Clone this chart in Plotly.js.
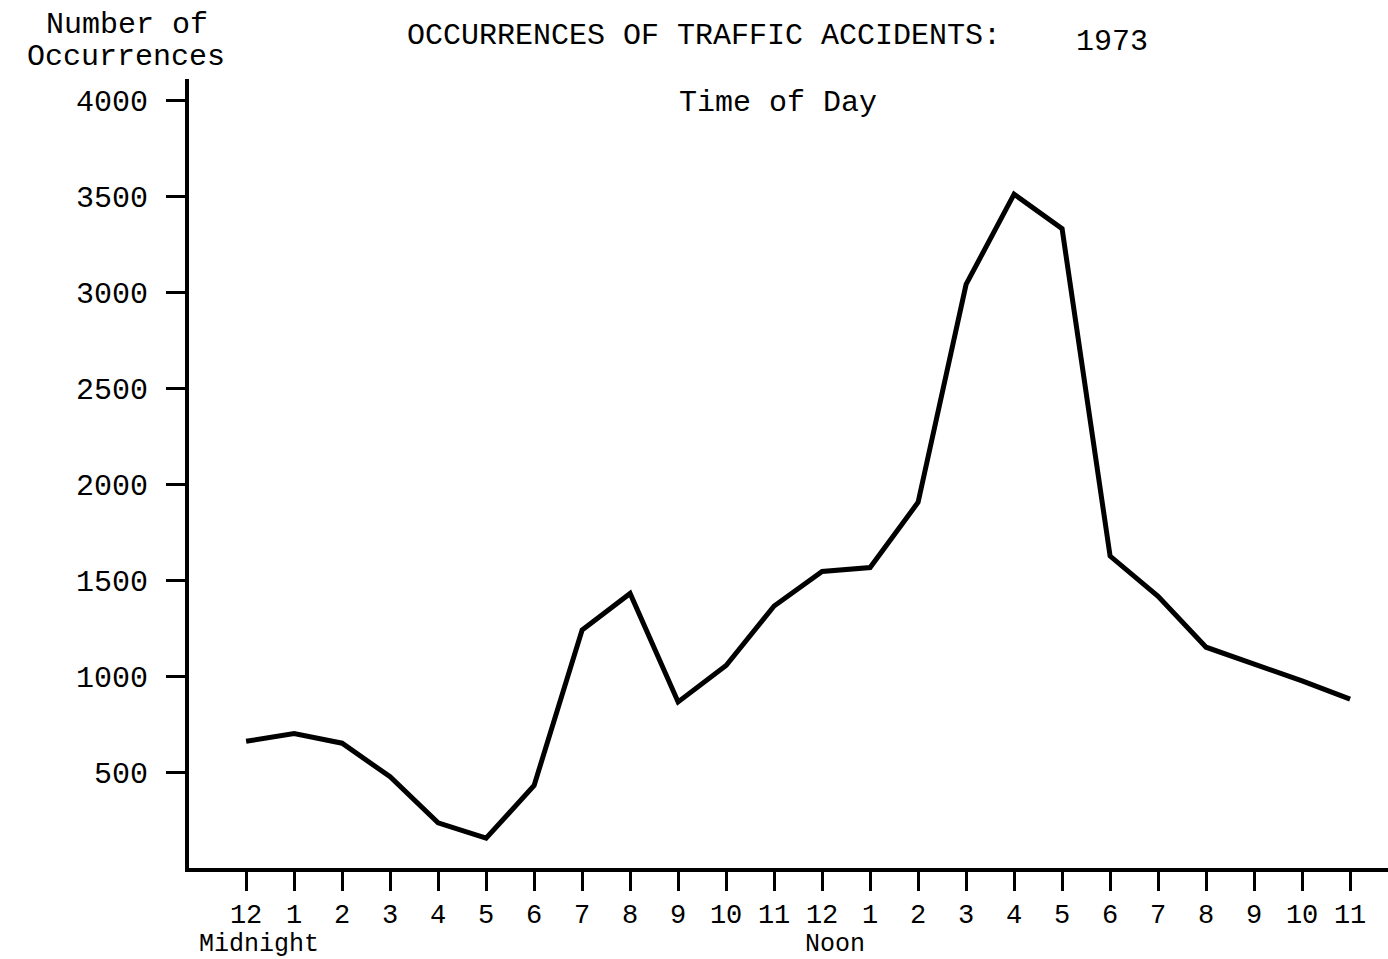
<!DOCTYPE html>
<html>
<head>
<meta charset="utf-8">
<script src="https://cdn.plot.ly/plotly-3.0.1.min.js"></script>
<style>
html,body{margin:0;padding:0;background:#fff;}
#chart{width:1388px;height:959px;}
</style>
</head>
<body>
<div id="chart"></div>
<script>
// Hours of the day (position index) and their tick labels
const hours = [0,1,2,3,4,5,6,7,8,9,10,11,12,13,14,15,16,17,18,19,20,21,22,23];
const hourLabels = ["12","1","2","3","4","5","6","7","8","9","10","11",
                    "12","1","2","3","4","5","6","7","8","9","10","11"];
// Number of occurrences per hour
const occurrences = [660,700,650,475,235,155,430,1240,1430,865,1055,1365,
                     1545,1565,1905,3040,3510,3330,1625,1415,1150,1065,975,880];
const yTicks = [500,1000,1500,2000,2500,3000,3500,4000];
const yTickLabels = ["500","1000","1500","2000","2500","3000","3500","4000"];

const FONT = "Liberation Mono, DejaVu Sans Mono, monospace";
const INK = "#000";

const trace = {
  x: hours,
  y: occurrences,
  type: "scatter",
  mode: "lines",
  line: {color: INK, width: 5},
  hoverinfo: "skip"
};

const layout = {
  width: 1388,
  height: 959,
  margin: {l: 189, r: 0, t: 79, b: 91},
  paper_bgcolor: "#fff",
  plot_bgcolor: "#fff",
  showlegend: false,
  font: {family: FONT, color: INK, size: 30},
  title: {
    text: "OCCURRENCES OF TRAFFIC ACCIDENTS:",
    x: 407/1388, xanchor: "left", xref: "container",
    y: 1 - 33/959, yanchor: "middle", yref: "container",
    font: {family: FONT, size: 30, color: INK}
  },
  xaxis: {
    range: [-1.19, 23.79],
    tickmode: "array",
    tickvals: hours,
    ticktext: hourLabels,
    showline: true, linecolor: INK, linewidth: 4,
    ticks: "outside", ticklen: 19, tickwidth: 3, tickcolor: INK,
    ticklabelstandoff: 0,
    showgrid: false, zeroline: false,
    tickfont: {family: FONT, size: 27, color: INK},
    fixedrange: true
  },
  yaxis: {
    range: [0, 4110],
    tickmode: "array",
    tickvals: yTicks,
    ticktext: yTickLabels,
    showline: true, linecolor: INK, linewidth: 4,
    ticks: "outside", ticklen: 19, tickwidth: 3, tickcolor: INK,
    ticklabelstandoff: 12,
    showgrid: false, zeroline: false,
    tickfont: {family: FONT, size: 30, color: INK},
    fixedrange: true
  },
  annotations: [
    {text: "1973", xref: "paper", yref: "paper", x: (1112-189)/1199, y: (868-42)/789,
     xanchor: "center", yanchor: "middle", showarrow: false, font: {family: FONT, size: 30, color: INK}},
    {text: "Time of Day", xref: "paper", yref: "paper", x: (778-189)/1199, y: (868-103)/789,
     xanchor: "center", yanchor: "middle", showarrow: false, font: {family: FONT, size: 30, color: INK}},
    {text: "Number of", xref: "paper", yref: "paper", x: (127-189)/1199, y: (868-25)/789,
     xanchor: "center", yanchor: "middle", showarrow: false, font: {family: FONT, size: 30, color: INK}},
    {text: "Occurrences", xref: "paper", yref: "paper", x: (126-189)/1199, y: (868-57)/789,
     xanchor: "center", yanchor: "middle", showarrow: false, font: {family: FONT, size: 30, color: INK}},
    {text: "Midnight", xref: "x", yref: "paper", x: 0.27, y: (868-945)/789,
     xanchor: "center", yanchor: "middle", showarrow: false, font: {family: FONT, size: 25, color: INK}},
    {text: "Noon", xref: "x", yref: "paper", x: 12.26, y: (868-945)/789,
     xanchor: "center", yanchor: "middle", showarrow: false, font: {family: FONT, size: 25, color: INK}}
  ]
};

Plotly.newPlot("chart", [trace], layout, {displayModeBar: false, staticPlot: true});
</script>
</body>
</html>
